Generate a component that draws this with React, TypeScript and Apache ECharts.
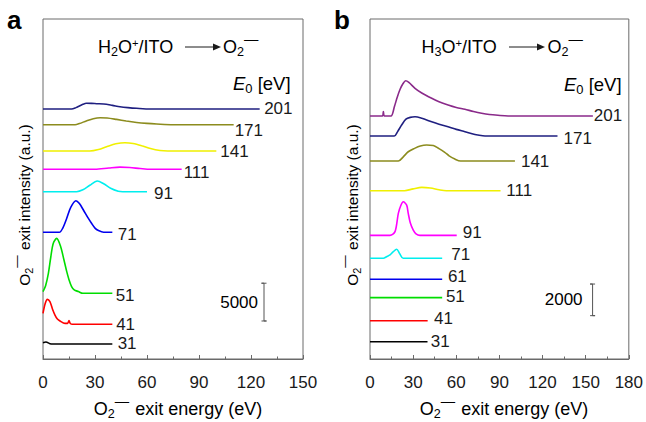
import React, { useEffect, useRef } from "react";
import * as echarts from "echarts";

const FONT = "'Liberation Sans', Arial, Helvetica, sans-serif";
const INK = "#1a1a1a";
const FRAME = "#6a6a6a";

// ---------- Panel a : H2O+/ITO -> O2- ----------
const labelsA = ["201", "171", "141", "111", "91", "71", "51", "41", "31"];
const offsetsA = [33090, 31010, 27530, 25110, 22140, 16770, 8700, 4590, 1990];
const a201 = [[0, 0], [16.5, 0], [19, 180], [21, 400], [23, 620], [25, 750], [28, 740], [31, 700], [35, 660], [40, 480], [44.4, 300], [49, 180], [54, 90], [62, 0], [125, 0]];
const a171 = [[0, 0], [18.5, 0], [21, 150], [25, 500], [29, 800], [33, 925], [37, 880], [42.5, 700], [48, 500], [54, 300], [60, 170], [65.6, 90], [75, 0], [110, 0]];
const a141 = [[0, 0], [27, 0], [32, 200], [37, 600], [42, 950], [47.3, 1100], [52, 1000], [57, 700], [62, 320], [67.5, 60], [72, 0], [100, 0]];
const a111 = [[0, 0], [30, 0], [38, 170], [44.4, 280], [50, 230], [56, 100], [62, 0], [80, 0]];
const a91 = [[0, 0], [19.4, 0], [23, 250], [27, 850], [31.3, 1410], [35, 1050], [39, 450], [43.4, 60], [46, 0], [60, 0]];
const a71 = [[0, 0], [9.4, 0], [11.5, 600], [13.7, 1850], [16, 3300], [19, 4180], [21, 3800], [23.3, 2950], [26, 1900], [28, 1190], [30, 550], [32, 225], [35, 0], [40, 0]];
const a51 = [[0, 220], [1.5, 1000], [3.1, 2640], [4.5, 4800], [5.9, 6600], [7.9, 7260], [10.2, 6160], [12, 4500], [13.7, 2860], [15, 1800], [16.5, 880], [18, 450], [20.4, 225], [23, 0], [40, 0]];
const a41 = [[0, 1450], [1.2, 2700], [2.5, 3300], [4, 3000], [5.5, 2000], [6.9, 1230], [8.3, 700], [9.8, 440], [12.7, 130], [14.2, 130], [15, 490], [15.8, 100], [17, 0], [40, 0]];
const a31 = [[0, 150], [1.7, 260], [4, 40], [6, 0], [40, 0]];
const curvesA = [a201, a171, a141, a111, a91, a71, a51, a41, a31];
const scaleA = [127.5, 5030, 5000]; // x, bottom, length

// ---------- Panel b : H3O+/ITO -> O2- ----------
const labelsB = ["201", "171", "141", "111", "91", "71", "61", "51", "41", "31"];
const offsetsB = [15370, 14100, 12520, 10640, 7820, 6370, 5040, 3880, 2420, 1095];
const b201 = [[0, 0], [8.6, 0], [9.3, 270], [10, 0], [14.6, 0], [17, 600], [19, 1200], [21, 1700], [23, 2050], [24.8, 2225], [27, 2120], [31.3, 1745], [36, 1450], [42.9, 1115], [48, 900], [54.3, 695], [60, 540], [66, 420], [72, 280], [77.6, 170], [83, 90], [89, 40], [96, 0], [155, 0]];
const b171 = [[0, 0], [16.9, 0], [19, 250], [22, 695], [25, 1070], [28, 1180], [31.3, 1215], [36, 1120], [42.9, 900], [48, 750], [54.3, 585], [60, 420], [66, 270], [71, 140], [75, 63], [80, 0], [130.4, 0]];
const b141 = [[0, 0], [19.7, 0], [23, 250], [26.6, 585], [31, 800], [35, 950], [39.4, 1010], [44, 985], [48, 780], [52, 550], [55, 330], [59, 125], [63, 0], [100.8, 0]];
const b111 = [[0, 0], [24, 0], [30, 120], [36, 210], [42, 170], [48, 60], [53, 0], [90.8, 0]];
const b91 = [[0, 0], [13.9, 0], [17.4, 235], [19.7, 1390], [21.5, 1900], [23.1, 2125], [25.5, 1910], [26.6, 1390], [28, 800], [30.1, 335], [32, 100], [34.7, 0], [60.3, 0]];
const b71 = [[0, 0], [9.3, 0], [11.5, 100], [13.9, 210], [16, 400], [18.5, 570], [20.8, 270], [23.1, 0], [50.2, 0]];
const b61 = [[0, 0], [50.2, 0]];
const b51 = [[0, 0], [50.2, 0]];
const b41 = [[0, 0], [40.1, 0]];
const b31 = [[0, 0], [40, 0]];
const curvesB = [b201, b171, b141, b111, b91, b71, b61, b51, b41, b31];
const scaleB = [154.8, 2740, 2000];

// styles (kept apart from data)
const colorsA = ["#1f1f80", "#8c8c1e", "#f0f000", "#ff00ff", "#00eeee", "#0000ee", "#00dd00", "#ff0000", "#000000"];
const colorsB = ["#8a2a8a", "#1f1f80", "#8c8c1e", "#f0f000", "#ff00ff", "#00eeee", "#0000ee", "#00dd00", "#ff0000", "#000000"];
const nudgeA = [[4.5, 0], [1, 6], [4, 1], [2, 3], [7, 2], [5.5, 2], [3.3, 2], [3.8, 0], [5.3, 0]];
const nudgeB = [[1, 0], [6, 2], [6, 0], [5.7, 0], [6, -3], [9, -4], [5.7, -3], [3.7, -1], [6.4, -2.4], [3.3, 0]];

const richFor = (fs: number) => ({
  n: { fontSize: fs, fontFamily: FONT, color: INK, verticalAlign: "middle" },
  it: { fontSize: fs, fontFamily: FONT, color: INK, fontStyle: "italic", verticalAlign: "middle" },
  sub: { fontSize: fs * 0.7, fontFamily: FONT, color: INK, verticalAlign: "middle", padding: [fs * 0.6, 0, 0, 0] },
  sup: { fontSize: fs * 0.62, fontFamily: FONT, color: INK, verticalAlign: "middle", padding: [0, 0, fs * 0.5, 0] },
  dash: { fontSize: fs * 0.8, fontFamily: FONT, color: INK, verticalAlign: "middle", padding: [0, 1, fs * 0.85, 0] },
});

function buildSeries(curves: number[][][], offsets: number[], labels: string[], colors: string[], nudges: number[][], idx: number) {
  return curves.map((c, i) => ({
    type: "line",
    name: labels[i],
    xAxisIndex: idx,
    yAxisIndex: idx,
    data: c.map(([x, y]) => [x, y + offsets[i]]),
    symbol: "none",
    showSymbol: false,
    smooth: 0.3,
    silent: true,
    lineStyle: { color: colors[i], width: 1.6 },
    itemStyle: { color: colors[i] },
    endLabel: {
      show: true,
      formatter: labels[i],
      color: INK,
      fontSize: 17,
      fontFamily: FONT,
      distance: nudges[i][0],
      offset: [0, nudges[i][1]],
    },
  }));
}

function scaleBarSeries(bar: number[], capHalf: number, idx: number, gap: number) {
  const [x, y0, len] = bar;
  const y1 = y0 + len;
  return [
    {
      type: "line",
      xAxisIndex: idx,
      yAxisIndex: idx,
      data: [[x - capHalf, y0], [x + capHalf, y0], [x, y0], [x, y1], [x - capHalf, y1], [x + capHalf, y1]],
      symbol: "none",
      silent: true,
      smooth: false,
      lineStyle: { color: "#555", width: 1 },
    },
    {
      type: "scatter",
      xAxisIndex: idx,
      yAxisIndex: idx,
      data: [[x, y0 + len / 2]],
      symbolSize: 0,
      silent: true,
      itemStyle: { opacity: 1 },
      label: { show: true, position: "left", distance: gap, formatter: String(len), color: "#000", fontSize: 17, fontFamily: FONT },
    },
  ];
}

function xAxisFor(idx: number, max: number) {
  return {
    gridIndex: idx,
    type: "value",
    min: 0,
    max,
    interval: 30,
    axisLine: { show: true, onZero: false, lineStyle: { color: FRAME, width: 1 } },
    axisTick: { show: true, inside: true, length: 4, lineStyle: { color: FRAME } },
    minorTick: { show: true, splitNumber: 2, length: 2.5, lineStyle: { color: FRAME } },
    splitLine: { show: false },
    minorSplitLine: { show: false },
    axisLabel: { color: INK, fontSize: 17, fontFamily: FONT, margin: 15 },
  };
}

function yAxisFor(idx: number, max: number) {
  return {
    gridIndex: idx,
    type: "value",
    min: 0,
    max,
    axisLine: { show: false },
    axisTick: { show: false },
    axisLabel: { show: false },
    splitLine: { show: false },
  };
}

function arrow(x0: number, x1: number, y: number) {
  return [
    { type: "line", shape: { x1: x0, y1: y, x2: x1 - 7, y2: y }, style: { stroke: INK, lineWidth: 1 } },
    { type: "polygon", shape: { points: [[x1 - 8, y - 3.5], [x1, y], [x1 - 8, y + 3.5]] }, style: { fill: INK } },
  ];
}

function rtext(x: number, y: number, text: string, fs: number, align = "left", rotation = 0) {
  return { type: "text", x, y, rotation, style: { text, rich: richFor(fs), verticalAlign: "middle", align } };
}

const yTitle = "{n|O}{sub|2}{dash|—}{n| exit intensity (a.u.)}";
const xTitle = "{n|O}{sub|2}{dash|—}{n| exit energy (eV)}";

export default function App() {
  const ref = useRef<HTMLDivElement>(null);
  useEffect(() => {
    if (!ref.current) return;
    const chart = echarts.init(ref.current, undefined, { renderer: "svg" });
    const option = {
      animation: false,
      backgroundColor: "#ffffff",
      grid: [
        { left: 43, top: 19, width: 260, height: 340, show: true, borderColor: FRAME, borderWidth: 1, containLabel: false },
        { left: 370, top: 19, width: 259, height: 340, show: true, borderColor: FRAME, borderWidth: 1, containLabel: false },
      ],
      xAxis: [xAxisFor(0, 150), xAxisFor(1, 180)],
      yAxis: [yAxisFor(0, 45000), yAxisFor(1, 21500)],
      series: [
        ...buildSeries(curvesA, offsetsA, labelsA, colorsA, nudgeA, 0),
        ...buildSeries(curvesB, offsetsB, labelsB, colorsB, nudgeB, 1),
        ...scaleBarSeries(scaleA, 2.5 * 150 / 260, 0, 6),
        ...scaleBarSeries(scaleB, 2.5 * 180 / 259, 1, 10),
      ],
      graphic: [
        { type: "text", x: 7, y: 20, style: { text: "a", font: `bold 26px ${FONT}`, fill: "#000", verticalAlign: "middle" } },
        { type: "text", x: 334, y: 20, style: { text: "b", font: `bold 26px ${FONT}`, fill: "#000", verticalAlign: "middle" } },
        rtext(24, 205, yTitle, 15.5, "center", Math.PI / 2),
        rtext(352, 205, yTitle, 15.5, "center", Math.PI / 2),
        rtext(178, 409, xTitle, 18, "center"),
        rtext(504, 409, xTitle, 18, "center"),
        rtext(98, 47, "{n|H}{sub|2}{n|O}{sup|+}{n|/ITO}", 18),
        ...arrow(185, 221, 47),
        rtext(223, 47, "{n|O}{sub|2}{dash|—}", 18),
        rtext(233, 83, "{it|E}{sub|0}{n| [eV]}", 18.5),
        rtext(421.5, 47, "{n|H}{sub|3}{n|O}{sup|+}{n|/ITO}", 18),
        ...arrow(509, 545, 47),
        rtext(547.5, 47, "{n|O}{sub|2}{dash|—}", 18),
        rtext(564, 84, "{it|E}{sub|0}{n| [eV]}", 18.5),
      ],
    };
    chart.setOption(option as any);
    return () => chart.dispose();
  }, []);
  return (
    <div
      ref={ref}
      style={{ position: "fixed", left: 0, top: 0, width: 646, height: 422, background: "#fff" }}
    />
  );
}
